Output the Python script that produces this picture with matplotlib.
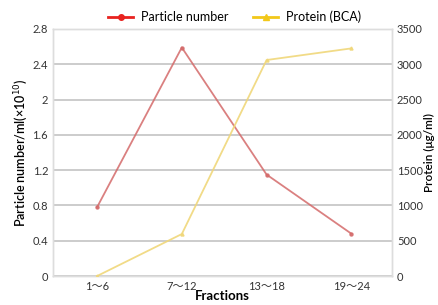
import matplotlib
matplotlib.use("Agg")
import matplotlib.pyplot as plt
from matplotlib.lines import Line2D

categories = ["1～6", "7～12", "13～18", "19～24"]
particle = [0.78, 2.59, 1.15, 0.48]
protein = [0, 595, 3060, 3225]
left_ticks = [0, 0.4, 0.8, 1.2, 1.6, 2, 2.4, 2.8]
left_labels = ["0", "0.4", "0.8", "1.2", "1.6", "2", "2.4", "2.8"]
right_ticks = [0, 500, 1000, 1500, 2000, 2500, 3000, 3500]

plt.rcParams['font.family'] = ['Lato', 'Noto Sans CJK JP', 'DejaVu Sans']

fig = plt.figure(figsize=(4.38, 3.05), dpi=100)
ax = fig.add_axes([0.121, 0.095, 0.774, 0.81])
ax2 = ax.twinx()

x = list(range(len(categories)))
ax.plot(x, particle, color="#d46a6a", lw=1.3, alpha=0.85, marker="o", ms=2.2, zorder=3)
ax2.plot(x, protein, color="#f0d77a", lw=1.3, alpha=0.9, marker="^", ms=2.2, zorder=3)

ax.set_xlim(-0.52, 3.48)
ax.set_ylim(0, 2.8)
ax2.set_ylim(0, 3500)
ax.set_xticks(x)
ax.set_xticklabels(categories, fontsize=8, color="#333333")
ax.set_yticks(left_ticks)
ax.set_yticklabels(left_labels, fontsize=8, color="#333333")
ax2.set_yticks(right_ticks)
ax2.set_yticklabels([str(t) for t in right_ticks], fontsize=8, color="#333333")

ax.grid(axis="y", color="#c8c8c8", lw=1.3)
ax.set_axisbelow(True)
for a in (ax, ax2):
    a.tick_params(length=0, pad=3.5)
    for s in a.spines.values():
        s.set_color("#dddddd")
        s.set_linewidth(1.0)

ax.set_xlabel("Fractions", fontsize=9.5, fontweight="bold", labelpad=-1)
ax.set_ylabel("Particle number/ml(×10$^{10}$)", fontsize=9, fontweight="semibold", labelpad=2)
ax2.set_ylabel("Protein (μg/ml)", fontsize=8.5, fontweight="semibold", labelpad=1)

handles = [
    Line2D([0], [0], color="#e8231f", lw=2, marker="o", ms=4),
    Line2D([0], [0], color="#f2c81a", lw=2, marker="^", ms=4),
]
fig.legend(handles, ["Particle number", "Protein (BCA)"], loc="center",
           bbox_to_anchor=(0.535, 0.945), ncol=2, frameon=False, fontsize=9,
           handlelength=2.0, columnspacing=2.0, handletextpad=0.6)

fig.savefig("out.png", dpi=100)
